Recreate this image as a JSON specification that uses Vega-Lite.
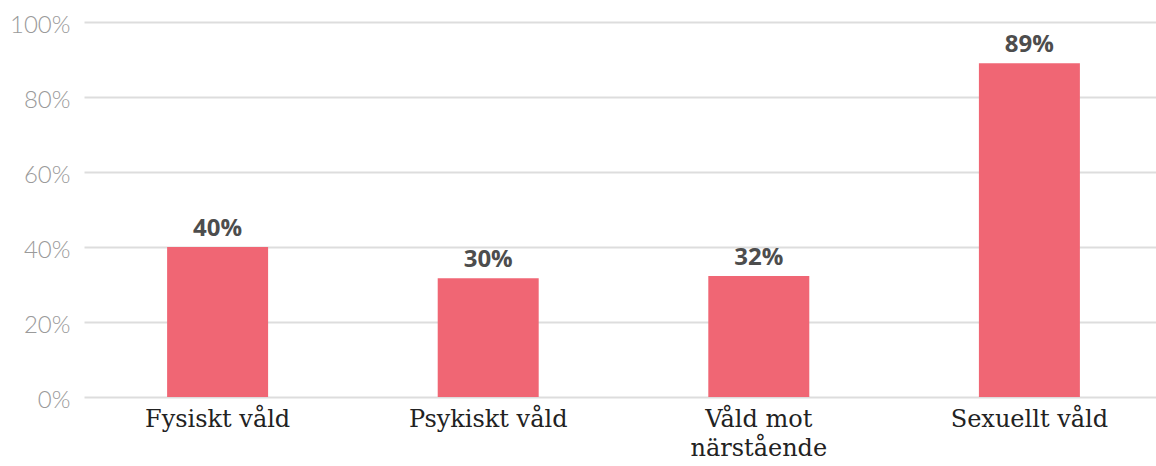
{
  "$schema": "https://vega.github.io/schema/vega-lite/v6.json",
  "autosize": {"type": "none"},
  "padding": {"left": 84, "top": 22, "right": 0, "bottom": 69},
  "width": 1072,
  "height": 375,
  "background": "white",
  "data": {
    "values": [
      {"kategori": "Fysiskt våld", "andel": 40, "etikett": "40%"},
      {"kategori": "Psykiskt våld", "andel": 31.7, "etikett": "30%"},
      {"kategori": "Våld mot närstående", "andel": 32.3, "etikett": "32%"},
      {"kategori": "Sexuellt våld", "andel": 89, "etikett": "89%"}
    ]
  },
  "config": {
    "view": {"stroke": null}
  },
  "encoding": {
    "x": {
      "field": "kategori",
      "type": "nominal",
      "sort": null,
      "scale": {"paddingInner": 0.6268, "paddingOuter": 0.2942, "align": 0.522},
      "axis": {
        "title": null,
        "labelAngle": 0,
        "domain": false,
        "ticks": false,
        "labelFont": "DejaVu Serif",
        "labelFontSize": 24,
        "labelColor": "#222222",
        "labelPadding": 10,
        "labelLineHeight": 29,
        "labelExpr": "datum.label == 'Våld mot närstående' ? ['Våld mot', 'närstående'] : datum.label"
      }
    },
    "y": {
      "field": "andel",
      "type": "quantitative",
      "scale": {"domain": [0, 100], "nice": false},
      "axis": {
        "title": null,
        "values": [0, 20, 40, 60, 80, 100],
        "labelExpr": "datum.value + '%'",
        "domain": false,
        "ticks": false,
        "labelFont": "Lato",
        "labelFontWeight": 300,
        "labelFontSize": 24,
        "labelColor": "#9a9a9a",
        "labelPadding": 14,
        "labelOffset": 3,
        "gridColor": "#dddddd",
        "gridWidth": 2
      }
    }
  },
  "layer": [
    {
      "mark": {"type": "bar", "color": "#F06674"}
    },
    {
      "mark": {
        "type": "text",
        "baseline": "alphabetic",
        "dy": -11,
        "font": "Open Sans",
        "fontWeight": "bold",
        "fontSize": 24,
        "color": "#4d4d4d"
      },
      "encoding": {"text": {"field": "etikett"}}
    }
  ]
}
